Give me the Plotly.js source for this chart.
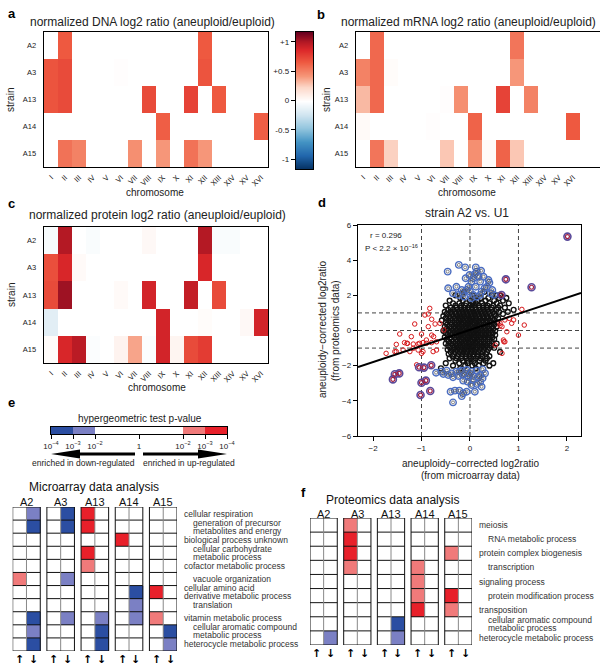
<!DOCTYPE html>
<html><head><meta charset="utf-8">
<script src="https://cdn.plot.ly/plotly-3.0.1.min.js"></script>
<style>html,body{margin:0;padding:0;background:#fff}#chart{width:601px;height:668px}</style>
</head><body><div id="chart"></div>
<script>
// ---------------- data: panels a-c ----------------
const chromosomes = ['I','II','III','IV','V','VI','VII','VIII','IX','X','XI','XII','XIII','XIV','XV','XVI'];
const strains = ['A2','A3','A13','A14','A15'];
const dnaRatio = [
  [0,0.66,0,0,0,0,0,0,0,0,0,0.66,0,0,0,0],
  [0.68,0.72,0,0,0,0.01,0,0,0,0,0,0.68,0,0,0,0],
  [0.68,0.72,0,0,0,0,0,0.72,0,0,0.75,0,0.66,0,0,0],
  [0,0,0,0,0,0,0,0,0.64,0,0,0,0,0,0,0.64],
  [0,0.56,0.5,0,0,0,0.45,0,0.42,0,0.56,0.42,0,0,0,0]
];
const mrnaRatio = [
  [0,0.6,0,0,0,0,0,0,0,0,0,0.55,0,0,0,0],
  [0.5,0.6,0.02,0,0,0,0,0,0,0,0,0.42,0,0,0,0],
  [0.32,0.6,0,0,0,0,0.01,0.45,0,0,0.75,0,0.5,0,0,0],
  [0.03,0,0,0,0,0.01,0,0,0.62,0,0,0,0,0,0,0.66],
  [0,0.55,0.25,0,0,0,0.28,0,0.45,0.03,0.62,0.28,0,0,0,0]
];
const proteinRatio = [
  [-0.04,1.0,0,-0.03,0,0,0,0.04,0,0,0,1.0,-0.03,-0.03,0,0],
  [0.7,0.88,0.03,0,0,0,0,0,0,0,0,0.88,0,0,0,0],
  [0.72,1.05,0,0,0,0.03,0,0.9,0,0,0.95,0,0.72,0,0,0],
  [-0.15,0,0,0,0,0,0,0,0.9,0,0,0.02,0,0,0.04,0.9],
  [0.02,0.88,0.98,-0.02,0,0.07,0.38,-0.02,0.9,0.06,0.72,0.78,0,0,0,0]
];
const colorbarLevels = [-1.17,-0.585,0,0.585,1.17];
const colorbarTicks = [-1,-0.5,0,0.5,1];
const colorbarTickText = ['-1','-0.5','0','+0.5','+1'];

// ---------------- data: panel d ----------------
const blackCloud = [
  [2.2,[-0.12,0.3]],
  [2.0,[-0.3,0.05,0.45,0.55,0.62]],
  [1.85,[-0.2,0.1,0.22,0.38,0.6,0.75]],
  [1.7,[-0.42,-0.15,0.0,0.15,0.32,0.5,0.68]],
  [1.55,[-0.35,-0.22,-0.08,0.05,0.12,0.25,0.4,0.55,0.8]],
  [1.42,[-0.5,-0.3,-0.18,-0.1,0.0,0.08,0.18,0.28,0.36,0.48,0.62]],
  [1.3,[-0.4,-0.28,-0.2,-0.12,-0.04,0.04,0.11,0.19,0.27,0.34,0.45,0.58,0.72]],
  [1.18,[-0.45,-0.35,-0.26,-0.18,-0.1,-0.03,0.05,0.12,0.2,0.28,0.36,0.44,0.55,0.9]],
  [1.06,[-0.52,-0.4,-0.31,-0.23,-0.15,-0.08,0.0,0.07,0.14,0.22,0.3,0.38,0.47,0.6,0.78]],
  [0.94,[-0.48,-0.37,-0.29,-0.21,-0.14,-0.06,0.02,0.09,0.17,0.24,0.32,0.4,0.5,0.68]],
  [0.82,[-0.55,-0.43,-0.34,-0.26,-0.19,-0.11,-0.04,0.04,0.11,0.19,0.27,0.35,0.43,0.53]],
  [0.7,[-0.5,-0.4,-0.31,-0.23,-0.16,-0.08,-0.01,0.06,0.13,0.21,0.29,0.37,0.46,0.58]],
  [0.58,[-0.58,-0.45,-0.36,-0.28,-0.2,-0.13,-0.05,0.02,0.1,0.17,0.25,0.33,0.41,0.5]],
  [0.46,[-0.5,-0.4,-0.32,-0.24,-0.17,-0.09,-0.02,0.06,0.13,0.2,0.28,0.36,0.45,0.56]],
  [0.34,[-0.47,-0.37,-0.29,-0.21,-0.14,-0.06,0.01,0.09,0.16,0.24,0.32,0.4,0.5]],
  [0.22,[-0.52,-0.42,-0.33,-0.25,-0.18,-0.1,-0.03,0.05,0.12,0.2,0.28,0.36,0.44,0.55]],
  [0.1,[-0.48,-0.38,-0.3,-0.22,-0.15,-0.07,0.0,0.08,0.15,0.23,0.31,0.39,0.48]],
  [-0.02,[-0.55,-0.44,-0.35,-0.27,-0.19,-0.12,-0.04,0.03,0.11,0.18,0.26,0.34,0.42,0.52]],
  [-0.14,[-0.5,-0.4,-0.31,-0.23,-0.16,-0.08,-0.01,0.07,0.14,0.22,0.3,0.38,0.47]],
  [-0.26,[-0.46,-0.36,-0.28,-0.2,-0.13,-0.05,0.02,0.1,0.17,0.25,0.33,0.41,0.52]],
  [-0.38,[-0.52,-0.41,-0.32,-0.24,-0.17,-0.09,-0.02,0.06,0.13,0.21,0.29,0.37,0.46]],
  [-0.5,[-0.48,-0.38,-0.29,-0.21,-0.14,-0.06,0.01,0.09,0.16,0.24,0.32,0.4,0.5]],
  [-0.62,[-0.44,-0.34,-0.26,-0.18,-0.1,-0.03,0.05,0.12,0.2,0.28,0.36,0.45]],
  [-0.74,[-0.5,-0.39,-0.3,-0.22,-0.15,-0.07,0.0,0.08,0.15,0.23,0.31,0.4,0.55]],
  [-0.86,[-0.45,-0.35,-0.27,-0.19,-0.11,-0.04,0.04,0.11,0.19,0.27,0.35,0.44]],
  [-0.98,[-0.41,-0.31,-0.23,-0.15,-0.08,0.0,0.07,0.15,0.23,0.31,0.4,0.5]],
  [-1.1,[-0.46,-0.35,-0.26,-0.18,-0.11,-0.03,0.04,0.12,0.2,0.28,0.37]],
  [-1.22,[-0.4,-0.3,-0.21,-0.13,-0.06,0.02,0.09,0.17,0.26,0.35,0.62]],
  [-1.34,[-0.44,-0.33,-0.24,-0.16,-0.08,0.0,0.07,0.15,0.24,0.33]],
  [-1.46,[-0.36,-0.26,-0.17,-0.09,-0.01,0.07,0.16,0.26,0.4]],
  [-1.58,[-0.42,-0.28,-0.18,-0.08,0.02,0.12,0.22,0.35]],
  [-1.72,[-0.3,-0.15,-0.04,0.08,0.2,0.32]],
  [-1.86,[-0.5,-0.22,-0.05,0.1,0.28,0.48]],
  [-2.0,[-0.35,-0.1,0.05,0.18,0.4]],
  [-2.15,[-0.6,-0.2,0.12]]
];
const redX = [-0.83,-0.93,-0.86,-0.79,-1.14,-1.45,-1.21,-1.29,-1.35,-0.72,-0.62,-0.54,-0.86,-1.0,-0.79,-0.75,-0.69,-0.9,-1.04,-1.07,-1.17,-1.24,-1.52,-1.55,-1.73,
  0.62,0.72,0.81,0.9,1.07,1.12,1.0,0.69,0.72,0.66,0.62,0.86,0.76,
  -1.52,-1.38,-1.3,-1.17,-1.07,-0.97,-0.9,-0.79,-0.76,-0.69,-0.97,-1.0,-1.1,0.66,0.7,0.52];
const redY = [1.26,0.88,0.94,0.64,0.37,-0.2,-0.35,-0.73,-0.69,0.37,0.41,0.03,0.22,-0.2,-0.26,-0.35,-0.64,-0.54,-0.73,-1.11,-1.01,-1.2,-0.79,-1.2,-1.3,
  0.41,0.6,0.69,0.6,1.2,0.31,-0.26,-0.54,-0.64,0.22,0.27,0.41,-0.07,
  -1.2,-1.11,-0.73,-0.77,-0.77,-0.69,-0.73,-0.69,-1.2,-1.11,-1.2,-1.3,-1.95,-1.3,-0.64,-0.83];
const blueX = [-0.46,-0.23,-0.1,0.12,0.14,0.23,-0.01,-0.09,0.07,0.17,-0.28,-0.03,0.03,0.21,0.38,0.4,0.46,0.24,0.43,0.5,-0.35,-0.15,-0.07,0.0,0.07,0.14,0.21,0.3,-0.12,0.03,-0.17,0.12,0.1,0.28,0.35,-0.45,-0.24,
  -0.7,-0.59,-0.48,-0.38,-0.28,-0.17,-0.07,0.03,0.14,0.26,0.31,0.21,0.07,-0.03,-0.14,-0.24,-0.35,-0.45,-0.55,0.06,0.21,-0.05,-0.14,0.03,0.14,0.24,-0.4,-0.31,-0.22,-0.14,-0.17,-0.35,-0.07,0.1,0.26,0.17,-0.21,-0.1,0.0];
const blueY = [3.35,3.73,3.59,3.59,3.35,3.4,3.16,2.97,2.97,3.06,2.49,2.49,2.78,2.78,2.87,2.72,2.3,2.21,2.11,2.02,2.11,2.11,2.3,2.21,2.02,1.92,2.02,2.4,1.92,1.83,2.3,2.49,3.21,3.06,2.49,2.4,2.02,
  -2.4,-2.34,-2.28,-2.44,-2.34,-2.28,-2.25,-2.34,-2.28,-2.21,-2.44,-2.53,-2.59,-2.63,-2.53,-2.59,-2.66,-2.53,-2.47,-2.82,-2.91,-2.91,-2.85,-3.1,-3.04,-3.2,-3.48,-3.42,-3.42,-3.57,-3.73,-4.09,-3.48,-3.48,-2.72,-2.66,-2.34,-2.44,-2.47];
const purpleX = [2.01,0.74,1.27,0.65,-1.59,-1.55,-1.46,-1.05,-0.95,-0.8,-1.0,-0.91,-0.82,-1.02];
const purpleY = [5.34,2.91,2.46,2.02,-2.78,-2.49,-2.44,-2.09,-2.11,-1.98,-2.97,-2.85,-3.44,-3.67];
const fitX = [-2.31, 2.29];
const fitY = [-2.08, 2.13];
const guideLevels = [-1, 0, 1];

// ---------------- data: panels e-f ----------------
const pvalEdges = [-4,-3,-2,2,3,4];
const pvalClasses = [-2,-1,0,1,2];
const pvalTicks = [-4,-3,-2,0,2,3,4];
const pvalTickText = ['10<sup>−4</sup>','10<sup>−3</sup>','10<sup>−2</sup>','1','10<sup>−2</sup>','10<sup>−3</sup>','10<sup>−4</sup>'];
const microTerms = [['cellular respiration'],['generation of precursor','metabolites and energy'],['biological process unknown'],['cellular carbohydrate','metabolic process'],['cofactor metabolic process'],['vacuole organization'],['cellular amino acid','derivative metabolic process'],['translation'],['vitamin metabolic process'],['cellular aromatic compound','metabolic process'],['heterocycle metabolic process']];
const microIndent = [0,1,0,1,0,1,0,1,0,1,0];
const microUp = [
  [0,0,0,0,0,1,0,0,0,0,0],
  [0,0,0,0,0,0,0,0,0,0,0],
  [2,2,0,2,1,0,0,0,0,0,0],
  [0,0,2,0,0,0,0,0,0,0,0],
  [0,0,0,0,0,0,2,0,1,0,0]
];
const microDown = [
  [-1,-2,0,0,0,0,0,0,-2,-1,-2],
  [-2,-2,0,0,0,-1,0,0,-1,0,0],
  [0,0,0,0,0,0,0,0,-1,-2,-2],
  [0,0,0,0,0,0,-2,-1,-1,0,0],
  [0,0,0,0,0,0,0,0,0,-2,-1]
];
const protTerms = [['meiosis'],['RNA metabolic process'],['protein complex biogenesis'],['transcription'],['signaling process'],['protein modification process'],['transposition'],['cellular aromatic compound','metabolic process'],['heterocycle metabolic process']];
const protIndent = [0,1,0,1,0,1,0,1,0];
const protUp = [
  [0,0,0,0,0,0,0,0,0],
  [1,2,2,1,0,0,0,0,0],
  [0,0,0,0,0,0,0,0,0],
  [0,0,0,1,1,1,2,0,0],
  [0,0,1,0,0,2,1,0,0]
];
const protDown = [
  [0,0,0,0,0,0,0,0,-1],
  [0,0,0,0,0,0,0,0,0],
  [0,0,0,0,0,0,0,-2,-1],
  [0,0,0,0,0,0,0,0,0],
  [0,0,0,0,0,0,0,0,0]
];
const directionMarks = ['↑','↓'];

// ---------------- layout helpers ----------------
const W = 601, H = 668;
const dx = p => p / W;
const dy = p => 1 - p / H;
const FONT = 'Liberation Sans, Arial, sans-serif';
const TXT = '#222';

const rdbu = [
  [0,'rgb(5,48,97)'],[0.1,'rgb(33,102,172)'],[0.2,'rgb(67,147,195)'],[0.3,'rgb(146,197,222)'],[0.4,'rgb(209,229,240)'],
  [0.5,'rgb(255,255,255)'],[0.6,'rgb(252,215,200)'],[0.68,'rgb(246,150,120)'],[0.78,'rgb(238,90,65)'],
  [0.87,'rgb(220,40,42)'],[0.93,'rgb(178,24,36)'],[1,'rgb(103,0,31)']
];
const pvalScale = [[0,'#2b4ea2'],[0.2,'#2b4ea2'],[0.2,'#7b80c4'],[0.4,'#7b80c4'],[0.4,'#ffffff'],[0.6,'#ffffff'],[0.6,'#f07a7a'],[0.8,'#f07a7a'],[0.8,'#e8202a'],[1,'#e8202a']];

const traces = [];
const layout = {
  width: W, height: H, margin: {l:0,r:0,t:0,b:0},
  paper_bgcolor: '#fff', plot_bgcolor: '#fff', showlegend: false,
  font: {family: FONT, color: TXT, size: 8},
  shapes: [], annotations: []
};

function hmXAxis(d0, d1, range, ya) {
  return {domain:[dx(d0),dx(d1)], range, anchor:ya, type:'category', tickangle:-45, tickfont:{size:7.5},
    showline:true, mirror:true, linecolor:'#000', linewidth:1.3, ticks:'', showgrid:false, zeroline:false, ticklabelstandoff:2};
}
function hmYAxis(t, b, mirror, xa) {
  return {domain:[dy(b),dy(t)], range:[4.5,-0.5], anchor:xa, type:'category', tickfont:{size:7.5},
    showline:true, mirror:mirror, linecolor:'#000', linewidth:1.3, ticks:'', showgrid:false, zeroline:false, ticklabelstandoff:5};
}
function addHeatmap(z, xa, ya) {
  traces.push({type:'heatmap', z, x:chromosomes, y:strains, xaxis:xa, yaxis:ya, colorscale:rdbu, zmin:-1.17, zmax:1.17, showscale:false, hoverinfo:'skip'});
}
addHeatmap(dnaRatio, 'x', 'y');
addHeatmap(mrnaRatio, 'x3', 'y3');
addHeatmap(proteinRatio, 'x4', 'y4');
layout.xaxis = hmXAxis(44, 268, [-0.5, 15.5], 'y');
layout.yaxis = hmYAxis(32, 167, true, 'x');
layout.xaxis3 = hmXAxis(356, 600, [-0.5, 16.93], 'y3');
layout.yaxis3 = hmYAxis(32, 167, false, 'x3');
layout.xaxis4 = hmXAxis(44, 268, [-0.5, 15.5], 'y4');
layout.yaxis4 = hmYAxis(227, 363, true, 'x4');

// colorbar as its own small heatmap
traces.push({type:'heatmap', x:[0,1], y:colorbarLevels, z:colorbarLevels.map(v=>[v,v]), xaxis:'x2', yaxis:'y2',
  colorscale:rdbu, zmin:-1.17, zmax:1.17, zsmooth:'best', showscale:false, hoverinfo:'skip'});
layout.xaxis2 = {domain:[dx(296),dx(313)], range:[-0.5,1.5], anchor:'y2', showticklabels:false, ticks:'', showgrid:false, zeroline:false, showline:true, mirror:true, linecolor:'#000', linewidth:1.3};
layout.yaxis2 = {domain:[dy(169),dy(32)], range:[-1.17,1.17], anchor:'x2', tickvals:colorbarTicks, ticktext:colorbarTickText, ticks:'outside', ticklen:4, tickcolor:'#000', tickfont:{size:8}, showgrid:false, zeroline:false, showline:true, mirror:true, linecolor:'#000', linewidth:1.3};

// ---------------- panel d ----------------
const blackX = [], blackY = [];
blackCloud.forEach(([y, xs]) => xs.forEach(x => { blackX.push(x); blackY.push(y); }));
traces.push({type:'scatter', mode:'markers', x:blackX, y:blackY, xaxis:'x5', yaxis:'y5', hoverinfo:'skip',
  marker:{symbol:'circle-open', size:4.8, color:'#111', line:{width:1.4}}});
traces.push({type:'scatter', mode:'markers', x:redX, y:redY, xaxis:'x5', yaxis:'y5', hoverinfo:'skip',
  marker:{symbol:'circle-open', size:4.5, color:'#d7191c', line:{width:1}}});
traces.push({type:'scatter', mode:'lines', x:fitX, y:fitY, xaxis:'x5', yaxis:'y5', hoverinfo:'skip', line:{color:'#000', width:2}});
traces.push({type:'scatter', mode:'markers', x:blueX, y:blueY, xaxis:'x5', yaxis:'y5', hoverinfo:'skip',
  marker:{symbol:'circle-open', size:6.5, color:'#4a6cc0', line:{width:1.4}}});
traces.push({type:'scatter', mode:'markers', x:blueX, y:blueY, xaxis:'x5', yaxis:'y5', hoverinfo:'skip',
  marker:{symbol:'circle-open', size:3, color:'#555', line:{width:0.7}}});
traces.push({type:'scatter', mode:'markers', x:purpleX, y:purpleY, xaxis:'x5', yaxis:'y5', hoverinfo:'skip',
  marker:{symbol:'circle-open', size:7, color:'#5a4a9a', line:{width:1.6}}});
traces.push({type:'scatter', mode:'markers', x:purpleX, y:purpleY, xaxis:'x5', yaxis:'y5', hoverinfo:'skip',
  marker:{symbol:'circle-open', size:4, color:'#a02040', line:{width:1.2}}});
layout.xaxis5 = {domain:[dx(358),dx(581)], range:[-2.31,2.29], anchor:'y5', tickvals:[-2,-1,0,1,2], ticks:'outside', ticklen:4, tickcolor:'#000', tickfont:{size:8},
  showgrid:false, zeroline:false, showline:true, mirror:true, linecolor:'#000', linewidth:1.3};
layout.yaxis5 = {domain:[dy(436),dy(225)], range:[-6,6], anchor:'x5', tickvals:[-6,-4,-2,0,2,4,6], ticks:'outside', ticklen:4, tickcolor:'#000', tickfont:{size:8},
  showgrid:false, zeroline:false, showline:true, mirror:true, linecolor:'#000', linewidth:1.3};
guideLevels.forEach(v => {
  layout.shapes.push({type:'line', xref:'x5', yref:'y5 domain', x0:v, x1:v, y0:0, y1:1, layer:'below', line:{color:'#444', width:1, dash:'4px,3px'}});
  layout.shapes.push({type:'line', xref:'x5 domain', yref:'y5', x0:0, x1:1, y0:v, y1:v, layer:'below', line:{color:'#444', width:1, dash:'4px,3px'}});
});

// ---------------- panel e legend bar ----------------
traces.push({type:'heatmap', x:pvalEdges, y:[0,1], z:[pvalClasses], xaxis:'x6', yaxis:'y6', colorscale:pvalScale, zmin:-2, zmax:2, showscale:false, hoverinfo:'skip'});
layout.xaxis6 = {domain:[dx(51),dx(227)], range:[-4,4], anchor:'y6', tickvals:pvalTicks, ticktext:pvalTickText, ticks:'outside', ticklen:4, tickcolor:'#000', tickfont:{size:8},
  showgrid:false, zeroline:false, showline:true, mirror:true, linecolor:'#000', linewidth:1};
layout.yaxis6 = {domain:[dy(434),dy(427)], range:[0,1], anchor:'x6', showticklabels:false, ticks:'', showgrid:false, zeroline:false, showline:true, mirror:true, linecolor:'#000', linewidth:1};

// ---------------- grids e and f ----------------
function addGrid(up, down, nRows, period, xa, ya, d0, d1, t, b, headerY, arrowY) {
  const xr = [0, (strains.length-1)*period + 2];
  strains.forEach((s, i) => {
    const x0 = i*period;
    const z = up[i].map((u, r) => [u, down[i][r]]);
    const yEdges = Array.from({length:nRows+1}, (_, k) => k);
    traces.push({type:'heatmap', x:[x0, x0+1, x0+2], y:yEdges, z, xaxis:xa, yaxis:ya, colorscale:pvalScale, zmin:-2, zmax:2, showscale:false, hoverinfo:'skip'});
    for (let r = 1; r < nRows; r++) layout.shapes.push({type:'line', xref:xa, yref:ya, x0:x0, x1:x0+2, y0:r, y1:r, line:{color:'#111', width:1}});
    layout.shapes.push({type:'line', xref:xa, yref:ya, x0:x0+1, x1:x0+1, y0:0, y1:nRows, line:{color:'#888', width:1}});
    layout.shapes.push({type:'rect', xref:xa, yref:ya, x0:x0, x1:x0+2, y0:0, y1:nRows, line:{color:'#111', width:1}});
    layout.annotations.push({xref:xa, yref:'paper', x:x0+1, y:dy(headerY), text:s, showarrow:false, xanchor:'center', yanchor:'middle', font:{size:11, color:'#111'}});
    directionMarks.forEach((m, k) => layout.annotations.push({xref:xa, yref:'paper', x:x0+0.5+k, y:dy(arrowY), text:'<b>'+m+'</b>', showarrow:false,
      xanchor:'center', yanchor:'middle', font:{size:11, color:'#000', family:'DejaVu Sans, sans-serif'}}));
  });
  const axName = xa.replace('x','xaxis'), ayName = ya.replace('y','yaxis');
  layout[axName] = {domain:[dx(d0),dx(d1)], range:xr, anchor:ya, visible:false, showgrid:false, zeroline:false};
  layout[ayName] = {domain:[dy(b),dy(t)], range:[nRows,0], anchor:xa, visible:false, showgrid:false, zeroline:false};
}
addGrid(microUp, microDown, 11, 2.48, 'x7', 'y7', 12.7, 177, 507, 651, 502, 659);
addGrid(protUp, protDown, 9, 2.47, 'x9', 'y9', 310, 472, 518, 645, 513.5, 653);

function termLabels(terms, indent, ya, xPlain, xIndent, lineOff) {
  terms.forEach((lines, r) => {
    const x = dx(indent[r] ? xIndent : xPlain);
    lines.forEach((ln, k) => {
      const off = lines.length === 1 ? 0 : (k === 0 ? -lineOff : lineOff);
      layout.annotations.push({xref:'paper', yref:ya, x, y:r+0.5+off, text:ln, showarrow:false, xanchor:'left', yanchor:'middle',
        font:{size:8.5, color:'#333'}});
    });
  });
}
termLabels(microTerms, microIndent, 'y7', 182, 191, 0.3);
termLabels(protTerms, protIndent, 'y9', 477, 486, 0.28);

// ---------------- texts ----------------
function ann(x, y, text, opts) {
  layout.annotations.push(Object.assign({xref:'paper', yref:'paper', x:dx(x), y:dy(y), text, showarrow:false, xanchor:'center', yanchor:'middle', font:{size:10, color:TXT}}, opts||{}));
}
const bold = {font:{size:13, color:'#000', family:'Liberation Sans, Arial, sans-serif'}, xanchor:'left'};
ann(6, 13, '<b>a</b>', bold);
ann(315, 14, '<b>b</b>', bold);
ann(6, 203, '<b>c</b>', bold);
ann(316, 202, '<b>d</b>', bold);
ann(6, 402, '<b>e</b>', bold);
ann(299, 492, '<b>f</b>', bold);
ann(152, 22, 'normalized DNA log2 ratio (aneuploid/euploid)', {font:{size:12, color:TXT}});
ann(468, 22, 'normalized mRNA log2 ratio (aneuploid/euploid)', {font:{size:12, color:TXT}});
ann(157, 215, 'normalized protein log2 ratio (aneuploid/euploid)', {font:{size:12, color:TXT}});
ann(467, 213, 'strain A2 vs. U1', {font:{size:12, color:TXT}});
ann(11, 100, 'strain', {textangle:-90});
ann(327, 100, 'strain', {textangle:-90});
ann(12, 295, 'strain', {textangle:-90});
ann(155, 192, 'chromosome');
ann(467, 192, 'chromosome');
ann(157, 387, 'chromosome');
ann(322, 330, 'aneuploidy−corrected log2ratio', {textangle:-90});
ann(335, 330, '(from proteomics data)', {textangle:-90});
ann(470, 463, 'aneuploidy−corrected log2ratio');
ann(470, 475, '(from microarray data)');
ann(368, 235, 'r = 0.296', {xanchor:'left', font:{size:8, color:TXT}});
ann(363, 248, 'P < 2.2 × 10<sup>−16</sup>', {xanchor:'left', font:{size:8, color:TXT}});
ann(140, 418, 'hypergeometric test p-value');
ann(83, 463, 'enriched in down-regulated', {font:{size:8.5, color:TXT}});
ann(189, 463, 'enriched in up-regulated', {font:{size:8.5, color:TXT}});
ann(94, 487, 'Microarray data analysis', {font:{size:12, color:'#111'}});
ann(392, 500, 'Proteomics data analysis', {font:{size:12, color:'#111'}});

// legend arrows
function P(x, y) { return dx(x) + ',' + dy(y); }
layout.shapes.push({type:'path', xref:'paper', yref:'paper', fillcolor:'#000', line:{width:0},
  path:'M'+P(51,454)+' L'+P(80,449.5)+' L'+P(80,452.6)+' L'+P(135,452.6)+' L'+P(135,455.4)+' L'+P(80,455.4)+' L'+P(80,458.5)+' Z'});
layout.shapes.push({type:'path', xref:'paper', yref:'paper', fillcolor:'#000', line:{width:0},
  path:'M'+P(227,454)+' L'+P(198,449.5)+' L'+P(198,452.6)+' L'+P(143,452.6)+' L'+P(143,455.4)+' L'+P(198,455.4)+' L'+P(198,458.5)+' Z'});

Plotly.newPlot('chart', traces, layout, {staticPlot:true, displayModeBar:false});
</script></body></html>
